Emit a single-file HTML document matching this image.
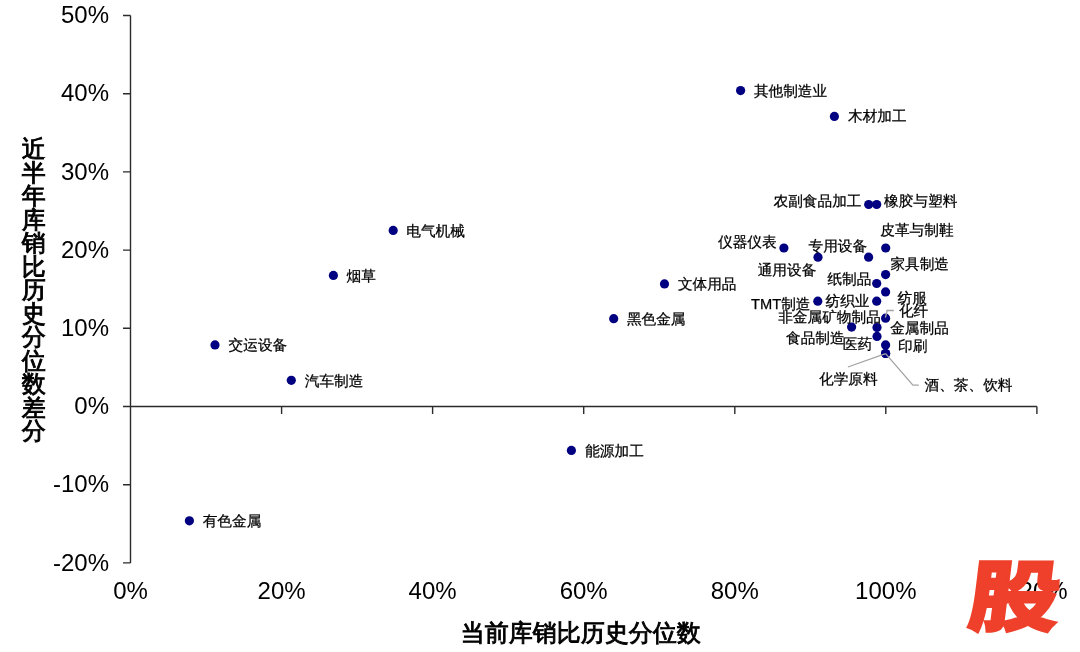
<!DOCTYPE html>
<html><head><meta charset="utf-8"><style>
html,body{margin:0;padding:0;background:#fff;width:1080px;height:652px;overflow:hidden}
svg{display:block;will-change:transform}
.ax{stroke:#2b2b2b;stroke-width:1.4;fill:none}
.tk{font-family:"Liberation Sans",Arial,sans-serif;font-size:24px;fill:#000}
.lb{font-family:"WenQuanYi Zen Hei","Noto Sans CJK SC",sans-serif;font-size:14.67px;fill:#000;stroke:#000;stroke-width:0.25}
.tt{font-family:"WenQuanYi Zen Hei","Noto Sans CJK SC",sans-serif;font-size:24px;fill:#000;stroke:#000;stroke-width:0.9}
.wm{font-family:"Noto Sans CJK SC",sans-serif;font-weight:900;fill:#EE402A;stroke:#EE402A;stroke-width:2;stroke-linejoin:miter}
</style></head><body>
<svg width="1080" height="652" viewBox="0 0 1080 652">
<g class="ax"><path d="M130.5 15.5V562.9M130.5 406.5H1036.9M123 562.9H130.5M123 484.7H130.5M123 406.5H130.5M123 328.3H130.5M123 250.1H130.5M123 171.9H130.5M123 93.7H130.5M123 15.5H130.5M130.5 406.5V414M281.6 406.5V414M432.6 406.5V414M583.7 406.5V414M734.8 406.5V414M885.8 406.5V414M1036.9 406.5V414"/></g>
<g class="tk" text-anchor="end"><text x="109" y="570.5">-20%</text><text x="109" y="492.3">-10%</text><text x="109" y="414.1">0%</text><text x="109" y="335.9">10%</text><text x="109" y="257.7">20%</text><text x="109" y="179.5">30%</text><text x="109" y="101.3">40%</text><text x="109" y="23.1">50%</text></g>
<g class="tk" text-anchor="middle"><text x="130.5" y="598.5">0%</text><text x="281.6" y="598.5">20%</text><text x="432.6" y="598.5">40%</text><text x="583.7" y="598.5">60%</text><text x="734.8" y="598.5">80%</text><text x="885.8" y="598.5">100%</text><text x="1036.9" y="598.5">120%</text></g>
<g fill="#000080"><circle cx="740.6" cy="90.6" r="4.6"/><circle cx="834.4" cy="116.4" r="4.6"/><circle cx="393.2" cy="230.4" r="4.6"/><circle cx="333.4" cy="275.4" r="4.6"/><circle cx="215" cy="344.9" r="4.6"/><circle cx="291.3" cy="380.3" r="4.6"/><circle cx="664.5" cy="283.9" r="4.6"/><circle cx="613.7" cy="318.7" r="4.6"/><circle cx="571.4" cy="450.4" r="4.6"/><circle cx="189.4" cy="520.8" r="4.6"/><circle cx="868.7" cy="204.5" r="4.6"/><circle cx="876.7" cy="204.5" r="4.6"/><circle cx="783.9" cy="248" r="4.6"/><circle cx="818" cy="257.2" r="4.6"/><circle cx="868.6" cy="257.2" r="4.6"/><circle cx="885.7" cy="248" r="4.6"/><circle cx="885.6" cy="274.6" r="4.6"/><circle cx="876.7" cy="283.5" r="4.6"/><circle cx="885.6" cy="291.9" r="4.6"/><circle cx="817.8" cy="301.2" r="4.6"/><circle cx="876.7" cy="301.2" r="4.6"/><circle cx="885.6" cy="318.2" r="4.6"/><circle cx="851.6" cy="327.1" r="4.6"/><circle cx="877" cy="327.5" r="4.6"/><circle cx="877" cy="336.4" r="4.6"/><circle cx="885.6" cy="344.9" r="4.6"/><circle cx="885.6" cy="353.5" r="4.6"/><circle cx="885.6" cy="353.5" r="4.6"/></g>
<g stroke="#a3a3a3" stroke-width="1.3" fill="none"><path d="M885.4 317.6L887.1 310.5H893.8M885.6 353.6L847.9 367M885.6 353.6L912.9 385.1H918.8"/></g>
<g class="lb"><text x="751" y="308.6"><tspan font-family="Liberation Sans, sans-serif">TMT</tspan>制造</text><text x="753.9" y="95.8">其他制造业</text><text x="848.0" y="121.0">木材加工</text><text x="406.3" y="235.6">电气机械</text><text x="346.5" y="281.2">烟草</text><text x="228.6" y="350.0">交运设备</text><text x="304.8" y="385.7">汽车制造</text><text x="677.9" y="289.2">文体用品</text><text x="626.9" y="323.9">黑色金属</text><text x="585.2" y="455.5">能源加工</text><text x="202.7" y="525.8">有色金属</text><text x="773.5" y="205.9">农副食品加工</text><text x="884.0" y="205.9">橡胶与塑料</text><text x="880.3" y="235.1">皮革与制鞋</text><text x="718.0" y="247.2">仪器仪表</text><text x="757.7" y="275.4">通用设备</text><text x="808.5" y="251.4">专用设备</text><text x="890.4" y="269.0">家具制造</text><text x="827.4" y="284.2">纸制品</text><text x="897.5" y="302.6">纺服</text><text x="825.5" y="306.4">纺织业</text><text x="898.9" y="316.4">化纤</text><text x="778.2" y="322.0">非金属矿物制品</text><text x="890.2" y="333.0">金属制品</text><text x="786.0" y="343.3">食品制造</text><text x="842.8" y="349.0">医药</text><text x="898.0" y="350.5">印刷</text><text x="819.0" y="384.1">化学原料</text><text x="924.5" y="390.0">酒、茶、饮料</text></g>
<g class="tt" text-anchor="middle"><text x="33.8" y="157.0">近</text><text x="33.8" y="180.5">半</text><text x="33.8" y="204.0">年</text><text x="33.8" y="227.5">库</text><text x="33.8" y="251.0">销</text><text x="33.8" y="274.5">比</text><text x="33.8" y="298.0">历</text><text x="33.8" y="321.5">史</text><text x="33.8" y="345.0">分</text><text x="33.8" y="368.5">位</text><text x="33.8" y="392.0">数</text><text x="33.8" y="415.5">差</text><text x="33.8" y="439.0">分</text></g>
<text class="tt" x="580.8" y="640.5" text-anchor="middle">当前库销比历史分位数</text>
<text class="wm" x="0" y="0" font-size="76" transform="translate(966,624.5) skewX(-7) scale(1.2,1.02)">股</text>
</svg>
</body></html>
